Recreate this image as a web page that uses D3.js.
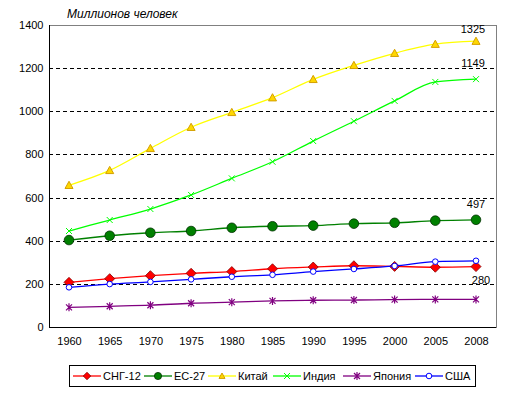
<!DOCTYPE html>
<html>
<head>
<meta charset="utf-8">
<script src="https://cdn.jsdelivr.net/npm/d3@7"></script>
<style>
  body { margin: 0; background: #fff; }
  svg { font-family: Arial, "Liberation Sans", sans-serif; }
</style>
</head>
<body>
<svg id="chart" width="511" height="395"></svg>
<script>
// years on the category axis
const years = ["1960", "1965", "1970", "1975", "1980", "1985", "1990", "1995", "2000", "2005", "2008"];
const yTicks = [0, 200, 400, 600, 800, 1000, 1200, 1400];

// population, millions
const cis12 = [207, 224, 238, 249, 257, 270, 278, 284, 281, 277, 280];
const eu27 = [403, 423, 437, 445, 460, 467, 470, 479, 483, 493, 497];
const china = [657, 726, 828, 926, 995, 1063, 1148, 1213, 1269, 1311, 1325];
const india = [445, 496, 547, 612, 689, 766, 862, 954, 1048, 1136, 1149];
const japan = [91, 96, 101, 110, 115, 121, 124, 125, 127, 128, 128];
const usa = [184, 199, 209, 221, 233, 242, 257, 269, 283, 303, 307];

const seriesNames = ["СНГ-12", "ЕС-27", "Китай", "Индия", "Япония", "США"];

const series = [
  { name: seriesNames[0], values: cis12, color: "#ff0000", marker: "diamond" },
  { name: seriesNames[1], values: eu27, color: "#008000", marker: "circle" },
  { name: seriesNames[2], values: china, color: "#ffff00", marker: "triangle" },
  { name: seriesNames[3], values: india, color: "#00ff00", marker: "x" },
  { name: seriesNames[4], values: japan, color: "#800080", marker: "star" },
  { name: seriesNames[5], values: usa, color: "#0000ff", marker: "open" }
];

var svg = d3.select("#chart");
var plotLeft = 49, plotRight = 496, plotTop = 25, plotBottom = 327;

var xScale = d3.scalePoint()
  .domain(years)
  .range([69, 476]);

var yScale = d3.scaleLinear()
  .domain([0, 1400])
  .range([plotBottom, plotTop]);

// dashed gridlines
svg.append("g")
  .selectAll("line")
  .data(yTicks.filter(d => d > 0 && d < 1400))
  .enter().append("line")
  .attr("x1", plotLeft).attr("x2", plotRight)
  .attr("y1", d => Math.round(yScale(d)) + 0.5).attr("y2", d => Math.round(yScale(d)) + 0.5)
  .attr("stroke", "#000")
  .attr("stroke-dasharray", "4,3");

// plot frame: top & right grey, left & bottom black
svg.append("line").attr("x1", plotLeft).attr("x2", plotRight + 0.5)
  .attr("y1", plotTop + 0.5).attr("y2", plotTop + 0.5).attr("stroke", "#808080");
svg.append("line").attr("x1", plotRight + 0.5).attr("x2", plotRight + 0.5)
  .attr("y1", plotTop).attr("y2", plotBottom).attr("stroke", "#808080");

var yAxis = svg.append("g")
  .attr("transform", "translate(" + (plotLeft + 0.5) + ",0)")
  .call(d3.axisLeft(yScale).tickValues(yTicks).tickFormat(d3.format("d")).tickSize(0).tickPadding(6));
yAxis.select(".domain").attr("stroke", "#000").attr("d", "M0," + plotTop + "V" + (plotBottom + 0.5));
yAxis.selectAll("text").style("font-size", "11px").style("font-family", "Arial, 'Liberation Sans', sans-serif").attr("fill", "#000");

var xAxis = svg.append("g")
  .attr("transform", "translate(0," + (plotBottom + 0.5) + ")")
  .call(d3.axisBottom(xScale).tickSize(0).tickPadding(10));
xAxis.select(".domain").attr("stroke", "#000").attr("d", "M" + plotLeft + ",0H" + (plotRight + 0.5));
xAxis.selectAll("text").style("font-size", "11px").style("font-family", "Arial, 'Liberation Sans', sans-serif").attr("fill", "#000");

// title
svg.append("text")
  .attr("x", 67).attr("y", 18)
  .style("font-size", "12px")
  .style("font-style", "italic")
  .text("Миллионов человек");

function drawMarker(g, type, color, x, y, k) {
  k = k || 1;
  if (type == "diamond") {
    var d = 5 * k;
    g.append("path")
      .attr("d", "M" + x + "," + (y - d) + "L" + (x + d) + "," + y + "L" + x + "," + (y + d) + "L" + (x - d) + "," + y + "Z")
      .attr("fill", color).attr("stroke", "#800000").attr("stroke-width", 0.8);
  } else if (type == "circle") {
    g.append("circle").attr("cx", x).attr("cy", y).attr("r", 4.8 * k)
      .attr("fill", color).attr("stroke", "#003000").attr("stroke-width", 0.8);
  } else if (type == "triangle") {
    var t = 4 * k;
    g.append("path")
      .attr("d", "M" + x + "," + (y - t) + "L" + (x + t) + "," + (y + t * 0.8) + "L" + (x - t) + "," + (y + t * 0.8) + "Z")
      .attr("fill", "#ffd700").attr("stroke", "#d4a000").attr("stroke-width", 1);
  } else if (type == "x") {
    g.append("path")
      .attr("d", "M" + (x - 3) + "," + (y - 3) + "L" + (x + 3) + "," + (y + 3) + "M" + (x + 3) + "," + (y - 3) + "L" + (x - 3) + "," + (y + 3))
      .attr("stroke", color).attr("stroke-width", 1);
  } else if (type == "star") {
    g.append("path")
      .attr("d", "M" + (x - 3) + "," + (y - 3) + "L" + (x + 3) + "," + (y + 3) + "M" + (x + 3) + "," + (y - 3) + "L" + (x - 3) + "," + (y + 3) + "M" + x + "," + (y - 4) + "L" + x + "," + (y + 4))
      .attr("stroke", color).attr("stroke-width", 1.2);
  } else if (type == "open") {
    g.append("circle").attr("cx", x).attr("cy", y).attr("r", 2.8)
      .attr("fill", "#fff").attr("stroke", color).attr("stroke-width", 1);
  }
}

var line = d3.line()
  .x((d, i) => xScale(years[i]))
  .y(d => yScale(d))
  .curve(d3.curveMonotoneX);

series.forEach(function(s) {
  var g = svg.append("g");
  g.append("path")
    .attr("d", line(s.values))
    .attr("fill", "none")
    .attr("stroke", s.color)
    .attr("stroke-width", 1.3);
  s.values.forEach(function(v, i) {
    drawMarker(g, s.marker, s.color, xScale(years[i]), yScale(v));
  });
});

// value labels at the last year
var lastYear = years[years.length - 1];
var labels = [
  { v: china[china.length - 1], dx: -3, dy: -8 },
  { v: india[india.length - 1], dx: -3, dy: -12 },
  { v: eu27[eu27.length - 1], dx: 0, dy: -12 },
  { v: cis12[cis12.length - 1], dx: 5, dy: 17 }
];
svg.append("g").selectAll("text")
  .data(labels)
  .enter().append("text")
  .attr("x", d => xScale(lastYear) + d.dx)
  .attr("y", d => yScale(d.v) + d.dy)
  .attr("text-anchor", "middle")
  .style("font-size", "11px")
  .text(d => d.v);

// legend
var legend = svg.append("g");
legend.append("rect")
  .attr("x", 69.5).attr("y", 365.5).attr("width", 406).attr("height", 21)
  .attr("fill", "#fff").attr("stroke", "#000");
var legendX = [73, 144, 208, 273, 343, 415];
series.forEach(function(s, i) {
  var x0 = legendX[i];
  legend.append("line")
    .attr("x1", x0).attr("x2", x0 + 28)
    .attr("y1", 376).attr("y2", 376)
    .attr("stroke", s.color).attr("stroke-width", 1.3);
  drawMarker(legend, s.marker, s.color, x0 + 14, 376, 0.75);
  legend.append("text")
    .attr("x", x0 + 30).attr("y", 380)
    .style("font-size", "11px")
    .text(s.name);
});
</script>
</body>
</html>
